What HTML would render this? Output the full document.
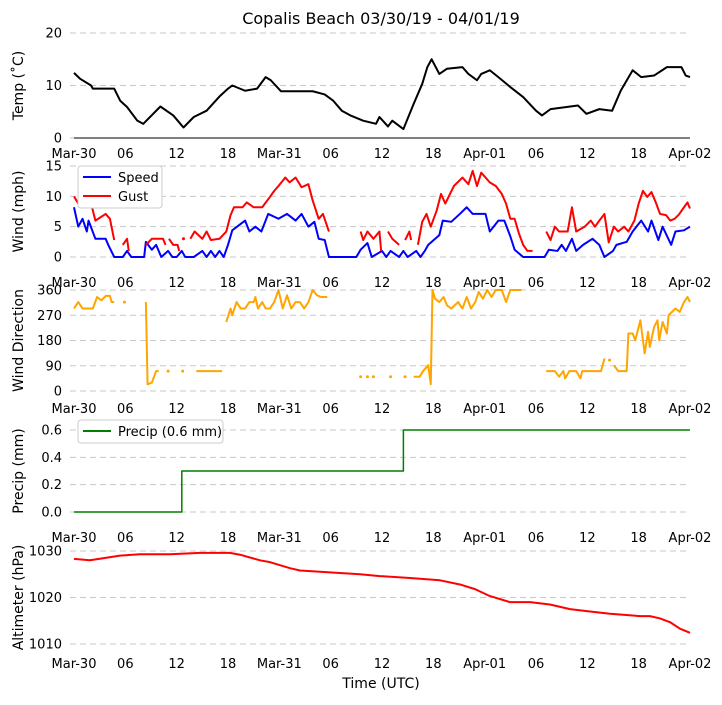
<!DOCTYPE html>
<html><head><meta charset="utf-8"><style>
body{margin:0;background:#fff;}
svg text{font-family:"DejaVu Sans","Liberation Sans",sans-serif;fill:#000;}
</style></head><body>
<svg id="c" width="722" height="700" xmlns="http://www.w3.org/2000/svg"></svg>
<script>
const xTickLabels=["Mar-30","06","12","18","Mar-31","06","12","18","Apr-01","06","12","18","Apr-02"];
const tempHours=[0,0.7,2,2.2,4.7,5.4,6.2,7.4,8.1,10.1,11.6,12.8,14,15.5,17,18,18.5,20,21.4,22.4,23,24.2,26.4,27.9,29.3,30.3,31.3,32.3,33.8,35.3,35.7,36.7,37.2,38.5,39.7,40.7,41.3,41.8,42.7,43.6,45.4,46.1,47.1,47.6,48.6,49.6,51,52.5,54,54.7,55.7,58.9,59.9,61.4,62.9,63.9,65.3,66.3,67.8,69.3,71,71.5,72];
const tempVals=[12.4,11.3,10,9.4,9.4,7.1,5.9,3.3,2.7,6,4.3,2,4,5.2,7.9,9.4,10,9,9.4,11.6,11,8.9,8.9,8.9,8.3,7.1,5.2,4.3,3.3,2.7,4,2.2,3.3,1.7,6.5,10.3,13.5,15,12.2,13.2,13.5,12.2,11,12.2,12.9,11.6,9.7,7.8,5.2,4.3,5.5,6.2,4.6,5.5,5.2,9,12.9,11.6,11.9,13.5,13.5,11.9,11.6];
const speedHours=[0,0.5,1,1.5,1.7,2.5,3.7,4,4.7,5.7,6.2,6.7,8.2,8.4,9.1,9.6,10.2,11,11.5,12,12.6,13,14,15,15.5,16,16.5,17,17.5,18,18.5,20,20.5,21.2,21.9,22.7,23.9,24.9,25.9,26.6,27.4,28.1,28.6,29.3,29.8,33,33.5,34.3,34.8,36,36.5,37,38,38.5,39,40,40.5,41,41.4,42.7,43.1,44.1,45.1,45.9,46.6,48.1,48.6,49.6,50.3,51,51.5,52.5,55,55.5,56.5,57,57.5,58.2,58.7,59.5,60.6,61.4,62,63,63.4,64.6,65.3,66.3,67.1,67.5,68.3,68.8,69.8,70.3,71.3,72];
const speedVals=[8.2,5,6.3,4.2,6,3,3,2,0,0,1,0,0,2.5,1.2,2,0,1,0,0,1,0,0,1,0,1,0,1,0,2,4.4,6,4.2,5,4.2,7.1,6.3,7.1,6,7.1,5,5.8,3,2.8,0,0,1.2,2.3,0,1,0,1,0,1,0,1,0,1,2,3.6,6,5.8,7.1,8.2,7.1,7.1,4.2,6,6,3.4,1.2,0,0,1.2,1,2,1,3,1,2,3,2,0,1,2,2.5,4.2,6,4.2,6,2.8,5,2,4.2,4.4,5];
const gustHours=[0,0.5,1.2,2,2.5,3.7,4.2,4.7,4.9,5.7,6.2,6.4,6.6,8.4,9.1,10.4,10.7,10.9,11.1,11.6,12.1,12.3,12.6,12.8,13,13.6,14.1,15,15.5,16,17,17.8,18.3,18.7,19.7,20.2,21,22,22.9,23.4,23.9,24.7,25.2,25.9,26.6,27.4,27.9,28.6,29.1,29.8,30,33.5,33.8,34.3,35,35.7,35.9,36.2,36.7,37.2,38,38.3,38.7,39.2,39.4,39.8,40.2,40.7,41.2,41.7,42.4,42.9,43.4,44.4,45.4,46.1,46.6,47.1,47.6,48.6,49.3,50,50.5,51,51.5,52,52.5,53,53.6,54,55.2,55.7,56.2,56.7,57.7,58.2,58.7,59.7,60.4,60.9,61.4,62,62.5,63.1,63.6,64.3,64.8,65.5,66,66.5,67,67.5,68,68.5,69.2,69.7,70.2,70.7,71.3,71.7,72];
const gustVals=[10,8.8,9,8.8,6,7.1,6.3,2.8,null,2,3,1,null,2,3,3,2,null,3,2,2,1,null,3,null,3,4.2,3,4.2,2.8,3,4.2,6.9,8.2,8.2,9,8.2,8.2,9.9,10.9,11.7,13.1,12.3,13.1,11.5,12,9.3,6.3,7.1,4.2,null,4.2,2.8,4.2,3,4.2,1,null,4.2,3,2,null,2.8,4.2,2.8,null,2,5.8,7.1,5,7.7,10.4,8.8,11.7,13.1,12,14.2,11.7,13.9,12.3,11.7,10.4,8.8,6.3,6.3,3.9,2,1,1,null,4.2,2.8,5,4.2,4.2,8.2,4.2,5,6,5,6,7.1,2.4,5,4.2,5,4.2,6,8.8,10.9,9.9,10.7,9,7.1,6.9,6,6.3,7,8.2,9,8];
const dirHours=[0,0.5,1,2.2,2.7,3.2,3.7,4.2,4.4,4.7,5,5.9,6.2,8.4,8.6,9.1,9.6,9.9,10.2,11,11.2,12.7,12.9,14.3,17.3,17.6,17.8,18.3,18.5,19,19.5,20,20.5,21,21.2,21.5,22,22.4,22.9,23.4,23.9,24.4,24.9,25.4,25.9,26.4,26.9,27.4,27.9,28.4,28.9,29.6,29.9,33.5,33.7,34.3,34.5,35,35.2,37,37.2,38.7,38.9,39.7,39.9,40.4,40.8,41.4,41.7,41.9,42.2,42.7,43.2,43.6,44.1,44.9,45.4,45.9,46.4,46.9,47.3,47.8,48.3,48.8,49.3,50,50.5,51,52.3,52.6,55.2,56.2,56.7,57.2,57.4,57.9,58.7,59.2,59.4,61.6,62,62.2,62.6,62.8,63.1,63.6,64.6,64.8,65.3,65.6,66.2,66.7,67.1,67.3,67.8,68.2,68.4,68.8,69.3,69.5,70.3,70.8,71.3,71.7,72];
const dirVals=[294,317,294,294,335,323,339,339,317,317,null,317,null,317,24,30,71,71,null,71,null,71,null,71,71,null,246,294,270,317,294,294,317,317,335,294,317,294,294,317,360,294,341,294,317,317,294,317,360,341,335,335,null,51,null,51,null,51,null,51,null,51,null,51,51,51,71,92,24,360,329,317,335,305,294,317,294,335,294,317,353,329,360,335,360,360,317,360,360,null,71,71,51,71,45,71,71,45,71,71,116,null,110,null,92,71,71,205,205,181,252,134,211,157,228,252,181,246,205,270,294,282,317,335,317];
const precipHours=[0,12.6,12.6,38.5,38.5,72];
const precipVals=[0,0,0.3,0.3,0.6,0.6];
const altXpx=[74,90,120,140,170,200,230,240,260,270,290,300,330,360,380,410,440,460,475,490,510,530,550,570,590,610,640,650,660,670,680,690];
const altHours=altXpx.map(x=>+((x-74)/8.556).toFixed(2));
const altVals=[1028.3,1028,1029,1029.3,1029.3,1029.6,1029.6,1029.2,1028,1027.6,1026.3,1025.8,1025.4,1025,1024.6,1024.2,1023.7,1022.8,1021.8,1020.3,1019,1019,1018.5,1017.5,1017,1016.5,1016,1016,1015.5,1014.7,1013.3,1012.4];

const svg=document.getElementById('c');
const NS='http://www.w3.org/2000/svg';
function el(t,a,p){const e=document.createElementNS(NS,t);for(const k in a)e.setAttribute(k,a[k]);(p||svg).appendChild(e);return e;}
const X0=74,X1=690;
const xs=h=>X0+(X1-X0)*h/72;

const panels=[
 {name:'temp',label:'Temp (˚C)',y0:138,y1:33,v0:0,v1:20,ticks:[0,10,20],tl:['0','10','20'],xl:153},
 {name:'wind',label:'Wind (mph)',y0:257,y1:166,v0:0,v1:15,ticks:[0,5,10,15],tl:['0','5','10','15'],xl:282},
 {name:'dir',label:'Wind Direction',y0:391,y1:290,v0:0,v1:360,ticks:[0,90,180,270,360],tl:['0','90','180','270','360'],xl:408},
 {name:'precip',label:'Precip (mm)',y0:512,y1:430,v0:0,v1:0.6,ticks:[0,0.2,0.4,0.6],tl:['0.0','0.2','0.4','0.6'],xl:537},
 {name:'alt',label:'Altimeter (hPa)',y0:644,y1:551,v0:1010,v1:1030,ticks:[1010,1020,1030],tl:['1010','1020','1030'],xl:663}
];
panels.forEach(p=>{p.ys=v=>p.y0+(p.y1-p.y0)*(v-p.v0)/(p.v1-p.v0);});

let t=el('text',{x:381,y:24,'font-size':16,'text-anchor':'middle'});


t.textContent='Copalis Beach 03/30/19 - 04/01/19';

panels.forEach((p,i)=>{
  const g=el('g',{});
  
  
  p.ticks.forEach((v,k)=>{
    const y=p.ys(v);
    const ln=el('line',{x1:70,x2:X1,y1:y,y2:y,stroke:'#c8c8c8','stroke-width':1,'stroke-dasharray':'6,4'},g);
    
    
    const tx=el('text',{x:62,y:y+4.5,'font-size':13,'text-anchor':'end'},g);
    
    
    tx.textContent=p.tl[k];
  });
  if(i===0){const sp=el('line',{x1:X0,x2:X1,y1:p.y0,y2:p.y0,stroke:'#000','stroke-width':1},g);
    }
  const yl=el('text',{transform:`translate(23,${(p.y0+p.y1)/2}) rotate(-90)`,'font-size':14,'text-anchor':'middle'},g);
  
  
  yl.textContent=p.label;
  xTickLabels.forEach((s,k)=>{
    const tx=el('text',{x:xs(k*6),y:p.xl+5,'font-size':13,'text-anchor':'middle'},g);
    
    
    tx.textContent=s;
  });
});

function series(p,hours,vals,color,name,w){
  let segs=[],cur=[];
  hours.forEach((h,k)=>{const v=vals[k];
    if(v===null||v===undefined){if(cur.length)segs.push(cur);cur=[];}
    else cur.push([xs(h),p.ys(v)]);});
  if(cur.length)segs.push(cur);
  const g=el('g',{});
  
  
  segs.forEach(s=>{
    if(s.length===1){el('circle',{cx:s[0][0],cy:s[0][1],r:1.5,fill:color},g);}
    else el('polyline',{points:s.map(q=>q.join(',')).join(' '),fill:'none',stroke:color,'stroke-width':w||2,'stroke-linejoin':'round'},g);
  });
}
series(panels[0],tempHours,tempVals,'#000','temp-line');
series(panels[1],speedHours,speedVals,'#0000ff','speed-line');
series(panels[1],gustHours,gustVals,'#ff0000','gust-line');
series(panels[2],dirHours,dirVals,'#ffa500','direction-line');
series(panels[3],precipHours,precipVals,'#007f00','precip-line',1.5);
series(panels[4],altHours,altVals,'#ff0000','altimeter-line');

function legend(x,y,w,h,items,name){
  const g=el('g',{});
  
  
  el('rect',{x:x,y:y,width:w,height:h,rx:3,fill:'#fff',stroke:'#ccc','stroke-width':1},g);
  items.forEach((it,k)=>{
    const yy=y+11+k*19;
    el('line',{x1:x+5,x2:x+33,y1:yy,y2:yy,stroke:it[1],'stroke-width':2},g);
    const tx=el('text',{x:x+40,y:yy+5,'font-size':13},g);
    
    
    tx.textContent=it[0];
  });
}
legend(78,166,84,42,[['Speed','#0000ff'],['Gust','#ff0000']],'wind-legend');
legend(78,420,145,23,[['Precip (0.6 mm)','#007f00']],'precip-legend');

const xt=el('text',{x:381,y:688,'font-size':14,'text-anchor':'middle'});


xt.textContent='Time (UTC)';
</script>
</body></html>
